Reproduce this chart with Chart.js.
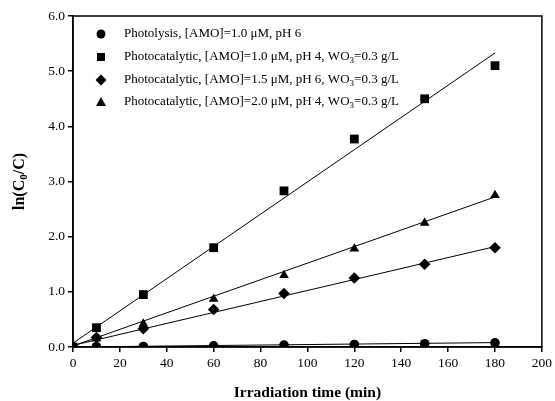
<!DOCTYPE html>
<html>
<head>
<meta charset="utf-8">
<script src="https://cdn.jsdelivr.net/npm/chart.js@4"></script>
<style>
  body { margin: 0; background: #fff; }
  #wrap { width: 555px; height: 401px; }
</style>
</head>
<body>
<div id="wrap"><canvas id="Chart"></canvas></div>
<script>
// irradiation times (min)
let times = [0, 10, 30, 60, 90, 120, 150, 180];

// ln(C0/C) for each run
let photolysis = [0, 0.005, 0.01, 0.02, 0.035, 0.045, 0.06, 0.075];
let amo10ph4 = [0, 0.35, 0.95, 1.8, 2.83, 3.77, 4.5, 5.1];
let amo15ph6 = [0, 0.17, 0.33, 0.68, 0.97, 1.25, 1.5, 1.8];
let amo20ph4 = [0, 0.15, 0.42, 0.87, 1.3, 1.78, 2.25, 2.75];

// linear fits, value at t=0 and t=180
let fitEnds = [0, 180];
let fitPhotolysis = [0.0, 0.08];
let fitAmo10ph4 = [0.07, 5.33];
let fitAmo15ph6 = [0.03, 1.82];
let fitAmo20ph4 = [0.02, 2.72];

let xTicks = [0, 20, 40, 60, 80, 100, 120, 140, 160, 180, 200];
let yTicks = [0, 1, 2, 3, 4, 5, 6];

// legend text, [text, subscript?] pieces
let legendRows = [
    {style: 'circle', parts: [['Photolysis, [AMO]=1.0 μM, pH 6', false]]},
    {style: 'rect', parts: [['Photocatalytic, [AMO]=1.0 μM, pH 4, WO', false], ['3', true], ['=0.3 g/L', false]]},
    {style: 'rectRot', parts: [['Photocatalytic, [AMO]=1.5 μM, pH 6, WO', false], ['3', true], ['=0.3 g/L', false]]},
    {style: 'triangle', parts: [['Photocatalytic, [AMO]=2.0 μM, pH 4, WO', false], ['3', true], ['=0.3 g/L', false]]}
];

const serif = '"Liberation Serif", "Times New Roman", serif';
const markRadius = {circle: 4.8, rect: 6.2, rectRot: 5.8, triangle: 5.6};

function pts(ys) {
    return times.map((t, i) => ({x: t, y: ys[i]}));
}
function fit(ys) {
    return fitEnds.map((t, i) => ({x: t, y: ys[i]}));
}

function markSet(data, style) {
    return {
        type: 'scatter', data: pts(data), pointStyle: style,
        pointRadius: markRadius[style],
        backgroundColor: '#000', borderColor: '#000', borderWidth: 0, showLine: false
    };
}
function lineSet(data) {
    return {
        type: 'line', data: fit(data), borderColor: '#000', borderWidth: 1,
        pointRadius: 0, fill: false
    };
}

function drawRich(ctx, parts, x, y, size) {
    let cx = x;
    for (const [txt, sub] of parts) {
        ctx.font = (sub ? size * 0.7 : size) + 'px ' + serif;
        ctx.fillText(txt, cx, sub ? y + size * 0.3 : y);
        cx += ctx.measureText(txt).width;
    }
}

function drawMarker(ctx, style, x, y) {
    ctx.beginPath();
    if (style === 'circle') {
        ctx.arc(x, y, 4.5, 0, Math.PI * 2);
    } else if (style === 'rect') {
        ctx.rect(x - 4, y - 4, 8, 8);
    } else if (style === 'rectRot') {
        ctx.moveTo(x, y - 5.5); ctx.lineTo(x + 5.5, y); ctx.lineTo(x, y + 5.5); ctx.lineTo(x - 5.5, y);
    } else {
        ctx.moveTo(x, y - 5); ctx.lineTo(x + 5, y + 4); ctx.lineTo(x - 5, y + 4);
    }
    ctx.closePath();
    ctx.fill();
}

const extras = {
    id: 'extras',
    afterDraw(chart) {
        const ctx = chart.ctx;
        const a = chart.chartArea;
        ctx.save();
        // frame
        ctx.strokeStyle = '#000';
        ctx.lineWidth = 1.5;
        ctx.strokeRect(a.left, a.top, a.right - a.left, a.bottom - a.top);
        // legend
        ctx.fillStyle = '#000';
        ctx.textBaseline = 'middle';
        ctx.textAlign = 'left';
        const rowY = [34, 57, 80, 102];
        legendRows.forEach((r, i) => {
            drawMarker(ctx, r.style, 101, rowY[i]);
            drawRich(ctx, r.parts, 124, rowY[i], 13);
        });
        // y axis title
        ctx.translate(20, (a.top + a.bottom) / 2);
        ctx.rotate(-Math.PI / 2);
        const p1 = 'ln(C', p3 = '/C)';
        ctx.font = 'bold 16px ' + serif;
        const w1 = ctx.measureText(p1).width, w3 = ctx.measureText(p3).width;
        ctx.font = 'bold 11px ' + serif;
        const w2 = ctx.measureText('0').width;
        let sx = -(w1 + w2 + w3) / 2;
        ctx.font = 'bold 16px ' + serif;
        ctx.fillText(p1, sx, 0);
        ctx.font = 'bold 11px ' + serif;
        ctx.fillText('0', sx + w1, 4.5);
        ctx.font = 'bold 16px ' + serif;
        ctx.fillText(p3, sx + w1 + w2, 0);
        ctx.restore();
    }
};

let graph = document.getElementById('Chart');

let chartData = {
    data: {
        datasets: [
            lineSet(fitPhotolysis), lineSet(fitAmo10ph4), lineSet(fitAmo15ph6), lineSet(fitAmo20ph4),
            markSet(photolysis, 'circle'), markSet(amo10ph4, 'rect'),
            markSet(amo15ph6, 'rectRot'), markSet(amo20ph4, 'triangle')
        ]
    },
    options: {
        responsive: true,
        maintainAspectRatio: false,
        animation: false,
        layout: {padding: {top: 16, right: 9, left: 0, bottom: 0}},
        plugins: {legend: {display: false}, tooltip: {enabled: false}},
        scales: {
            x: {
                type: 'linear', min: 0, max: 200,
                afterFit(s) { s.height = 54; },
                afterBuildTicks(s) { s.ticks = xTicks.map(v => ({value: v})); },
                grid: {drawOnChartArea: false, drawTicks: true, tickLength: 5, color: '#000', lineWidth: 1.5},
                border: {display: true, color: '#000', width: 1.5},
                ticks: {color: '#000', font: {family: serif, size: 13.5}, padding: 3},
                title: {display: true, text: 'Irradiation time (min)', color: '#000',
                    font: {family: serif, size: 15.5, weight: 'bold', lineHeight: 1},
                    padding: {top: 0, bottom: 0}}
            },
            y: {
                type: 'linear', min: 0, max: 6,
                afterFit(s) { s.width = 73; },
                afterBuildTicks(s) { s.ticks = yTicks.map(v => ({value: v})); },
                grid: {drawOnChartArea: false, drawTicks: true, tickLength: 5, color: '#000', lineWidth: 1.5},
                border: {display: true, color: '#000', width: 1.5},
                ticks: {color: '#000', font: {family: serif, size: 13.5}, padding: 3,
                    callback: v => v.toFixed(1)}
            }
        }
    },
    plugins: [extras]
};

let presentdata = new Chart(graph, chartData);
</script>
</body>
</html>
